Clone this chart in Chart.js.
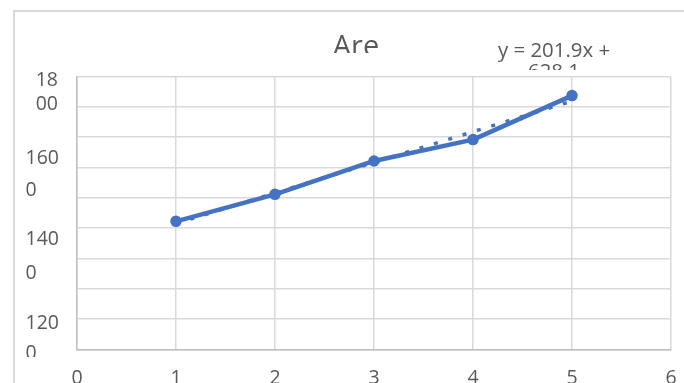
<!DOCTYPE html>
<html>
<head>
<meta charset="utf-8">
<script src="https://cdn.jsdelivr.net/npm/chart.js@4.4.1/dist/chart.umd.min.js"></script>
<style>
  html, body { margin: 0; padding: 0; background: #ffffff; }
  canvas { display: block; }
</style>
</head>
<body>
<canvas id="chart" width="684" height="383"></canvas>
<script>
// ---- data ----
const xValues = [1, 2, 3, 4, 5];
const areaValues = [845, 1023, 1243, 1384, 1674];

// linear trendline, as printed in its label
const trendSlope = 201.9;
const trendIntercept = 628.1;
const trendFrom = 1;
const trendTo = 5;

// texts
const chartTitle = 'Are';
const yTickLines = [['18', '00'], ['160', '0'], ['140', '0'], ['120', '0']]; // top to bottom
const yMin = 0, yMax = 1800, yStep = 200;
const xMin = 0, xMax = 6, xStep = 1;

// ---- style ----
const TEXT = '#595959';
const BLUE = '#4472C4';
const GRID = '#d9d9d9';
const AXIS = '#bfbfbf';
const FONT = "'Open Sans', sans-serif";
const TICK_SIZE = 19.5;
const PAD_LEFT = 25.5;
const PLOT_LEFT = 77;
const labelLineHeights = [24.3, 31.7, 33.5, 30]; // top to bottom

// wrapped label blocks sit flush right, their lines flush left
const measure = document.createElement('canvas').getContext('2d');
measure.font = TICK_SIZE + 'px ' + FONT;
const blockWidth = lines => Math.max(...lines.map(l => measure.measureText(l).width));
const widestBlock = Math.max(...yTickLines.map(blockWidth));
const spaceWidth = measure.measureText(' ').width;
const yLabelBlocks = yTickLines.map(lines => {
  const pad = ' '.repeat(Math.round((widestBlock - blockWidth(lines)) / spaceWidth));
  return lines.map(l => pad + l);
});

const equationText = 'y = ' + trendSlope + 'x + ' + trendIntercept;
const equationLines = equationText.split(/(?<=\+) /);

const seriesPoints = xValues.map((x, i) => ({ x: x, y: areaValues[i] }));
const trendPoints = [trendFrom, trendTo].map(x => ({ x: x, y: trendSlope * x + trendIntercept }));

function drawClippedText(ctx, lines, cx, baseline, lineGap, size, clipBottom) {
  ctx.save();
  ctx.beginPath();
  ctx.rect(0, 0, ctx.canvas.width, clipBottom);
  ctx.clip();
  ctx.fillStyle = TEXT;
  ctx.font = size + 'px ' + FONT;
  ctx.textAlign = 'center';
  ctx.textBaseline = 'alphabetic';
  lines.forEach((line, i) => ctx.fillText(line, cx, baseline + i * lineGap));
  ctx.restore();
}

const frame = {
  id: 'frame',
  beforeDraw(chart) {
    const { ctx, width, height } = chart;
    ctx.save();
    ctx.fillStyle = '#ffffff';
    ctx.fillRect(0, 0, width, height);
    ctx.strokeStyle = GRID;
    ctx.lineWidth = 2;
    ctx.beginPath();
    ctx.moveTo(14, height + 5);
    ctx.lineTo(14, 11);
    ctx.lineTo(width + 5, 11);
    ctx.stroke();
    ctx.restore();
  },
  afterDraw(chart) {
    const { ctx } = chart;
    drawClippedText(ctx, [chartTitle], 356, 55.7, 0, 29, 53);
    drawClippedText(ctx, equationLines, 554, 57.3, 20.3, 20.4, 70);
    // the value-label column ends just under the lowest label
    ctx.save();
    ctx.fillStyle = '#ffffff';
    ctx.fillRect(16, 357, 60, 11);
    ctx.restore();
  }
};

new Chart(document.getElementById('chart'), {
  type: 'scatter',
  data: {
    datasets: [
      {
        label: chartTitle,
        data: seriesPoints,
        showLine: true,
        borderColor: BLUE,
        backgroundColor: BLUE,
        borderWidth: 4.5,
        borderJoinStyle: 'round',
        pointRadius: 5,
        pointBorderWidth: 1.5,
        pointBackgroundColor: BLUE,
        pointBorderColor: BLUE,
        tension: 0,
        order: 0
      },
      {
        label: 'Linear',
        data: trendPoints,
        showLine: true,
        borderColor: BLUE,
        borderWidth: 3.5,
        borderDash: [4, 11],
        borderCapStyle: 'butt',
        pointRadius: 0,
        order: 1
      }
    ]
  },
  options: {
    responsive: false,
    animation: false,
    events: [],
    layout: { padding: { top: 76.5, right: 13, bottom: 0, left: PAD_LEFT } },
    plugins: {
      legend: { display: false },
      title: { display: false },
      tooltip: { enabled: false }
    },
    scales: {
      x: {
        type: 'linear',
        position: 'bottom',
        min: xMin, max: xMax,
        grid: { color: GRID, lineWidth: 1.5, drawTicks: true, tickLength: 17, tickColor: 'rgba(0,0,0,0)' },
        border: { color: AXIS, width: 1.5 },
        ticks: {
          stepSize: xStep,
          color: TEXT,
          padding: 0,
          font: { family: FONT, size: TICK_SIZE }
        },
        afterFit: s => { s.height = 33.5; }
      },
      y: {
        type: 'linear',
        position: 'left',
        weight: 0,
        min: yMin, max: yMax,
        grid: { color: GRID, lineWidth: 1.5, drawTicks: false },
        border: { color: AXIS, width: 1.5 },
        ticks: { stepSize: yStep, display: false }
      },
      yLabels: {
        type: 'linear',
        position: 'left',
        weight: 1,
        min: -0.136, max: 3.19,
        grid: { display: false },
        border: { display: false },
        ticks: {
          stepSize: 1,
          includeBounds: false,
          crossAlign: 'far',
          padding: 0,
          color: TEXT,
          font: ctx => {
            const slot = ctx.index === undefined ? 0 : ctx.index;
            const lh = labelLineHeights[yTickLines.length - 1 - slot] || 30;
            return { family: FONT, size: TICK_SIZE, lineHeight: lh + 'px' };
          },
          callback: (value) => yLabelBlocks[yTickLines.length - 1 - Math.round(value)]
        },
        afterFit: s => { s.width = PLOT_LEFT - PAD_LEFT; }
      }
    }
  },
  plugins: [frame]
});
</script>
</body>
</html>
